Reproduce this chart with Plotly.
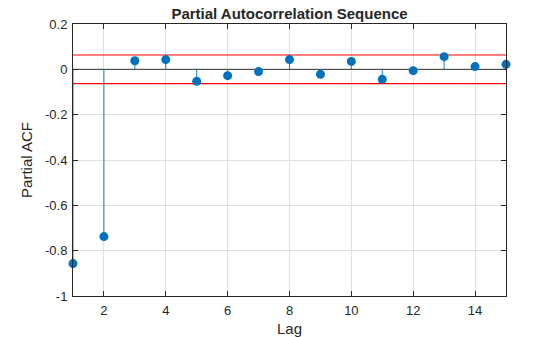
import plotly.graph_objects as go

# Partial autocorrelation values by lag
lags = list(range(1, 16))
pacf = [-0.857, -0.738, 0.038, 0.043, -0.053, -0.028, -0.010, 0.043,
        -0.022, 0.035, -0.044, -0.006, 0.056, 0.012, 0.022]
conf_bound = 0.0632

x_ticks = [2, 4, 6, 8, 10, 12, 14]
y_ticks = [-1, -0.8, -0.6, -0.4, -0.2, 0, 0.2]
y_tick_labels = ["-1", "-0.8", "-0.6", "-0.4", "-0.2", "0", "0.2"]

blue = "#0072BD"
ink = "#262626"

# Stem segments from zero to each value
stem_x, stem_y = [], []
for lag, val in zip(lags, pacf):
    stem_x += [lag, lag, None]
    stem_y += [0, val, None]

fig = go.Figure()

# zero reference line
fig.add_trace(go.Scatter(x=[lags[0], lags[-1]], y=[0, 0], mode="lines",
                         line=dict(color="black", width=0.8), hoverinfo="skip"))
# confidence bounds
for b in (conf_bound, -conf_bound):
    fig.add_trace(go.Scatter(x=[lags[0], lags[-1]], y=[b, b], mode="lines",
                             line=dict(color="red", width=1.1), hoverinfo="skip"))
# stems
fig.add_trace(go.Scatter(x=stem_x, y=stem_y, mode="lines",
                         line=dict(color=blue, width=0.9), hoverinfo="skip"))
# markers
fig.add_trace(go.Scatter(x=lags, y=pacf, mode="markers", cliponaxis=False,
                         marker=dict(color=blue, size=9, line=dict(width=0))))

axis_common = dict(
    showline=True, linecolor=ink, linewidth=1, mirror="ticks",
    ticks="inside", ticklen=5, tickcolor=ink,
    showgrid=True, gridcolor="#E0E0E0", gridwidth=1,
    zeroline=False, automargin=False,
    tickfont=dict(family="Liberation Sans, Arial, sans-serif", size=13, color=ink),
)

fig.update_layout(
    width=560, height=337,
    margin=dict(l=73, r=54, t=24, b=41),
    paper_bgcolor="white", plot_bgcolor="white",
    showlegend=False,
    font=dict(family="Liberation Sans, Arial, sans-serif", color=ink),
    title=dict(text="<b>Partial Autocorrelation Sequence</b>",
               x=(73 + 506) / 2 / 560, xanchor="center",
               y=1 - 14 / 337, yanchor="middle",
               font=dict(size=15, color=ink)),
    xaxis=dict(range=[1, 15], tickvals=x_ticks, ticklabelstandoff=2,
               title=dict(text="Lag", font=dict(size=15, color=ink), standoff=10),
               **axis_common),
    yaxis=dict(range=[-1, 0.2], tickvals=y_ticks, ticktext=y_tick_labels,
               ticklabelstandoff=2,
               title=dict(text="Partial ACF", font=dict(size=15, color=ink), standoff=8),
               **axis_common),
)

fig.write_html("out.html")
